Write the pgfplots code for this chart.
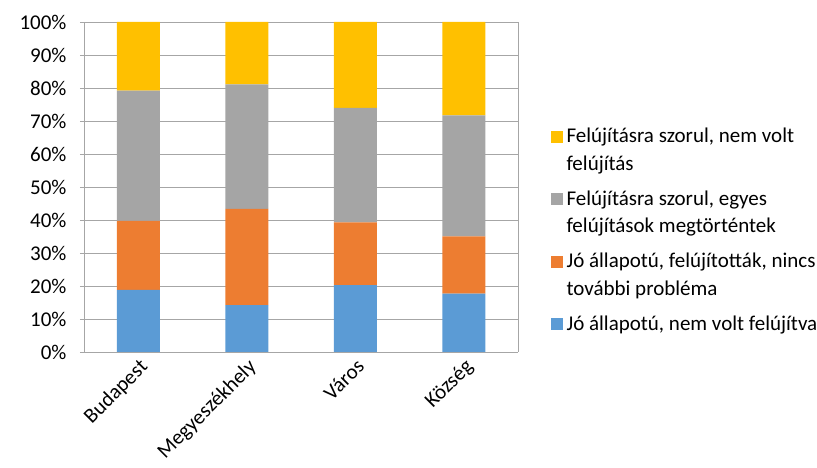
\documentclass[border=0pt]{standalone}
\usepackage{pgfplots}
\pgfplotsset{compat=1.18}
\usepackage{fontspec}
\setmainfont{Carlito}
\definecolor{cblue}{HTML}{5B9BD5}
\definecolor{corange}{HTML}{ED7D31}
\definecolor{cgray}{HTML}{A5A5A5}
\definecolor{cyellow}{HTML}{FFC000}
\definecolor{gridc}{HTML}{A6A6A6}
\newcommand{\st}{\rule[-6bp]{0pt}{28bp}}
\newcommand{\stb}{\rule[-6bp]{0pt}{35.5bp}}
\begin{document}
\begin{tikzpicture}
\path[use as bounding box] (0,0) rectangle (817bp,468bp);
\begin{axis}[
  at={(84bp,116bp)}, anchor=south west,
  scale only axis, width=434bp, height=330bp,
  ybar stacked, bar width=43bp,
  xmin=-0.5, xmax=3.5, ymin=0, ymax=100,
  xtick={0,1,2,3},
  xticklabels={Budapest,Megyeszékhely,Város,Község},
  x tick label style={rotate=45, anchor=north east, font=\fontsize{21bp}{25bp}\selectfont, inner sep=1bp},
  major x tick style={draw=none},
  extra x ticks={-0.5,0.5,1.5,2.5,3.5},
  extra x tick labels={},
  extra x tick style={tick style={draw=gridc, line width=0.75bp}, major tick length=5bp, tick pos=lower, tick align=outside},
  ytick={0,10,...,100},
  yticklabel={\pgfmathprintnumber{\tick}\%},
  y tick label style={font=\fontsize{21bp}{25bp}\selectfont, xshift=-10bp},
  /pgf/number format/assume math mode=true,
  ymajorgrids, grid style={draw=gridc, line width=0.75bp},
  axis line style={draw=gridc, line width=0.75bp},
  tick style={draw=gridc, line width=0.75bp},
  major tick length=4bp, tick align=outside,
  ytick pos=left,
  axis x line*=bottom,
  axis y line*=left,
  legend style={draw=none, inner sep=0pt, at={(1.076,0.707)}, anchor=north west,
    font=\fontsize{21bp}{25bp}\selectfont,
    cells={anchor=base west, inner ysep=0pt}, row sep=0pt, column sep=2bp},
]
\addlegendimage{legend image code/.code={\fill[cyellow] (0bp,1bp) rectangle (11bp,12bp);}}
\addlegendentry{\st Felújításra szorul, nem volt}
\addlegendimage{empty legend}
\addlegendentry{\st felújítás}
\addlegendimage{legend image code/.code={\fill[cgray] (0bp,1bp) rectangle (11bp,12bp);}}
\addlegendentry{\stb Felújításra szorul, egyes}
\addlegendimage{empty legend}
\addlegendentry{\st felújítások megtörténtek}
\addlegendimage{legend image code/.code={\fill[corange] (0bp,1bp) rectangle (11bp,12bp);}}
\addlegendentry{\stb Jó állapotú, felújították, nincs}
\addlegendimage{empty legend}
\addlegendentry{\st további probléma}
\addlegendimage{legend image code/.code={\fill[cblue] (0bp,1bp) rectangle (11bp,12bp);}}
\addlegendentry{\stb Jó állapotú, nem volt felújítva}
\addplot[fill=cblue, draw=none, forget plot] coordinates {(0,18.8) (1,14.2) (2,20.3) (3,17.7)};
\addplot[fill=corange, draw=none, forget plot] coordinates {(0,20.9) (1,29.2) (2,19.0) (3,17.3)};
\addplot[fill=cgray, draw=none, forget plot] coordinates {(0,39.5) (1,37.7) (2,34.7) (3,36.7)};
\addplot[fill=cyellow, draw=none, forget plot] coordinates {(0,20.8) (1,18.9) (2,26.0) (3,28.3)};
\end{axis}
\draw[gridc, line width=0.75bp] (518bp,116bp) -- (518bp,446bp);
\end{tikzpicture}
\end{document}
